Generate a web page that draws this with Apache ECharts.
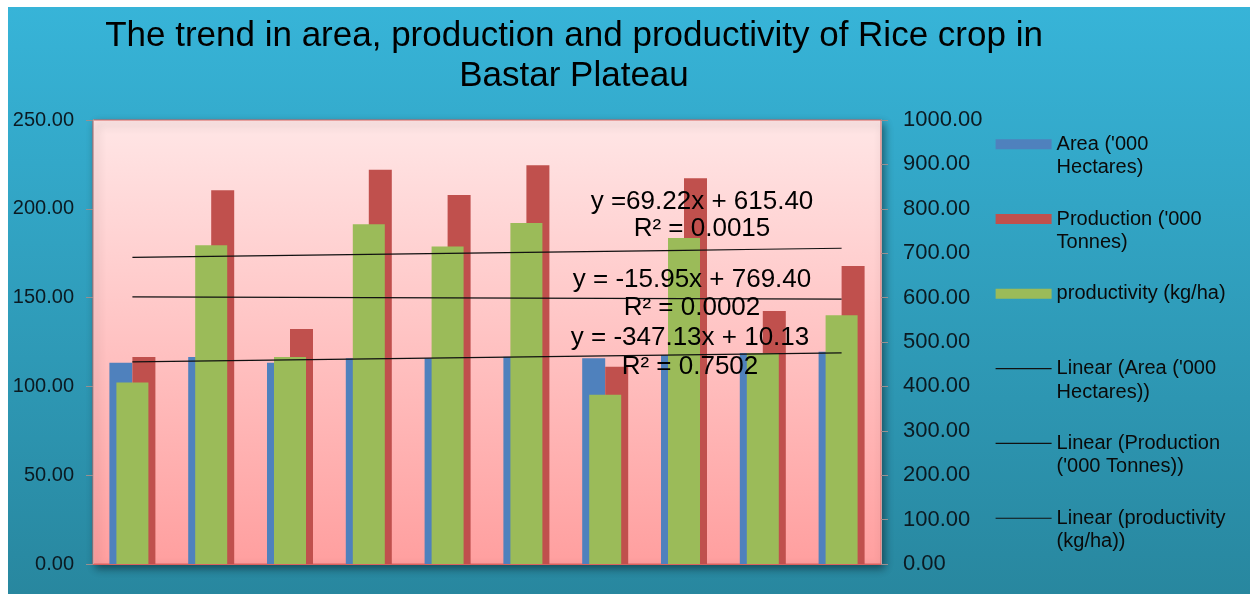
<!DOCTYPE html>
<html>
<head>
<meta charset="utf-8">
<title>Rice crop in Bastar Plateau</title>
<script src="https://cdn.jsdelivr.net/npm/echarts/dist/echarts.min.js"></script>
<style>
  html, body { margin: 0; padding: 0; background: #ffffff; }
  #chart { width: 1250px; height: 594px; }
</style>
</head>
<body>
<div id="chart"></div>
<script>
// Ten seasons of rice statistics for Bastar Plateau
const periods = ['1', '2', '3', '4', '5', '6', '7', '8', '9', '10'];
const areaValues = [113.3, 116.6, 113.3, 115.8, 115.8, 116.7, 115.8, 117.7, 118.8, 119.5];          // '000 ha
const productionValues = [116.6, 210.4, 132.3, 222.0, 207.8, 224.5, 111.1, 217.2, 142.5, 167.8];    // '000 t
const productivityValues = [409, 718, 466, 765, 715, 768, 381, 734, 475, 560];                      // kg/ha

const leftAxisTicks = [0, 50, 100, 150, 200, 250];
const rightAxisTicks = [0, 100, 200, 300, 400, 500, 600, 700, 800, 900, 1000];

const seriesNames = {
  area: "Area ('000 Hectares)",
  production: "Production ('000 Tonnes)",
  productivity: 'productivity (kg/ha)',
  areaTrend: "Linear (Area ('000 Hectares))",
  productionTrend: "Linear (Production ('000 Tonnes))",
  productivityTrend: 'Linear (productivity (kg/ha))'
};

// Wrapped legend captions; the leading blank line keeps each swatch level with the first text line
const legendCaptions = {
  [seriesNames.area]: "\nArea ('000\nHectares)",
  [seriesNames.production]: "\nProduction ('000\nTonnes)",
  [seriesNames.productivity]: '\nproductivity (kg/ha)\n',
  [seriesNames.areaTrend]: "\nLinear (Area ('000\nHectares))",
  [seriesNames.productionTrend]: "\nLinear (Production\n('000 Tonnes))",
  [seriesNames.productivityTrend]: '\nLinear (productivity\n(kg/ha))'
};

// Trendline equations as printed on the chart
const equationLabels = [
  'y =69.22x + 615.40', 'R² = 0.0015',
  'y = -15.95x + 769.40', 'R² = 0.0002',
  'y = -347.13x + 10.13', 'R² = 0.7502'
];

// Least-squares straight line through a series (x = 1..n)
function linearTrend(values) {
  const n = values.length;
  const xs = values.map((_, i) => i + 1);
  const mx = xs.reduce((a, b) => a + b, 0) / n;
  const my = values.reduce((a, b) => a + b, 0) / n;
  let sxy = 0, sxx = 0;
  for (let i = 0; i < n; i++) {
    sxy += (xs[i] - mx) * (values[i] - my);
    sxx += (xs[i] - mx) * (xs[i] - mx);
  }
  const slope = sxy / sxx;
  const intercept = my - slope * mx;
  return xs.map(x => +(intercept + slope * x).toFixed(3));
}

const FONT = '"Liberation Sans", Arial, sans-serif';
const LG = echarts.graphic.LinearGradient;

const chart = echarts.init(document.getElementById('chart'), null, { renderer: 'canvas' });

const trendLine = { color: '#111111', width: 1.2 };

const equationPositions = [
  [702, 202], [702, 229],
  [692, 280], [692, 308],
  [690, 338], [690, 367]
];

const lineLegendItem = name => ({
  name: name,
  lineStyle: { color: trendLine.color, width: 1.2 },
  itemStyle: { opacity: 0 }
});

chart.setOption({
  animation: false,
  textStyle: { fontFamily: FONT },
  title: {
    text: 'The trend in area, production and productivity of Rice crop in\nBastar Plateau',
    left: 574,
    top: 16,
    padding: 0,
    textAlign: 'center',
    textStyle: { fontFamily: FONT, fontSize: 35, fontWeight: 'normal', color: '#000000', lineHeight: 40 }
  },
  legend: {
    orient: 'vertical',
    left: 995,
    top: 109,
    itemWidth: 56,
    itemHeight: 10,
    itemGap: 4.3,
    padding: 0,
    selectedMode: false,
    textStyle: { fontFamily: FONT, fontSize: 20, color: '#0a0a0a', lineHeight: 23.5 },
    formatter: name => legendCaptions[name] || name,
    data: [
      { name: seriesNames.area, icon: 'rect' },
      { name: seriesNames.production, icon: 'rect' },
      { name: seriesNames.productivity, icon: 'rect' },
      lineLegendItem(seriesNames.areaTrend),
      lineLegendItem(seriesNames.productionTrend),
      lineLegendItem(seriesNames.productivityTrend)
    ]
  },
  grid: {
    left: 93,
    top: 120,
    width: 788,
    height: 444,
    show: true,
    backgroundColor: new LG(0, 0, 0, 1, [
      { offset: 0, color: '#ffe6e6' },
      { offset: 1, color: '#ff9f9f' }
    ]),
    borderColor: '#d9625f',
    borderWidth: 1,
    shadowColor: 'rgba(0, 0, 0, 0.45)',
    shadowBlur: 8,
    shadowOffsetX: 3,
    shadowOffsetY: 4
  },
  xAxis: [
    {
      type: 'category',
      data: periods,
      axisLine: { show: true, lineStyle: { color: '#d9625f' } },
      axisTick: { show: false },
      axisLabel: { show: false }
    },
    {
      type: 'category',
      data: periods,
      show: false
    }
  ],
  yAxis: [
    {
      type: 'value',
      min: leftAxisTicks[0],
      max: leftAxisTicks[leftAxisTicks.length - 1],
      interval: leftAxisTicks[1] - leftAxisTicks[0],
      position: 'left',
      splitLine: { show: false },
      axisLine: { show: true, lineStyle: { color: '#c9a2a2' } },
      axisTick: { show: true, inside: false, length: 7, lineStyle: { color: '#9a8f8f' } },
      axisLabel: { margin: 19, fontFamily: FONT, fontSize: 20, color: '#0b1a22', formatter: v => v.toFixed(2) }
    },
    {
      type: 'value',
      min: rightAxisTicks[0],
      max: rightAxisTicks[rightAxisTicks.length - 1],
      interval: rightAxisTicks[1] - rightAxisTicks[0],
      position: 'right',
      splitLine: { show: false },
      axisLine: { show: true, lineStyle: { color: '#c9a2a2' } },
      axisTick: { show: true, inside: false, length: 7, lineStyle: { color: '#9a8f8f' } },
      axisLabel: { margin: 22, fontFamily: FONT, fontSize: 22, color: '#0b1a22', formatter: v => v.toFixed(2) }
    }
  ],
  series: [
    {
      name: seriesNames.area,
      type: 'bar',
      xAxisIndex: 0,
      yAxisIndex: 0,
      barWidth: 23,
      barGap: '0%',
      itemStyle: { color: '#4f81bd' },
      data: areaValues
    },
    {
      name: seriesNames.production,
      type: 'bar',
      xAxisIndex: 0,
      yAxisIndex: 0,
      barWidth: 23,
      barGap: '0%',
      itemStyle: { color: '#c0504d' },
      data: productionValues
    },
    {
      name: seriesNames.productivity,
      type: 'bar',
      xAxisIndex: 1,
      yAxisIndex: 1,
      barWidth: 32,
      itemStyle: { color: '#9bbb59' },
      data: productivityValues
    },
    {
      name: seriesNames.areaTrend,
      type: 'line',
      xAxisIndex: 0,
      yAxisIndex: 0,
      symbol: 'none',
      z: 5,
      lineStyle: trendLine,
      itemStyle: { color: trendLine.color },
      data: linearTrend(areaValues)
    },
    {
      name: seriesNames.productionTrend,
      type: 'line',
      xAxisIndex: 0,
      yAxisIndex: 0,
      symbol: 'none',
      z: 5,
      lineStyle: trendLine,
      itemStyle: { color: trendLine.color },
      data: linearTrend(productionValues)
    },
    {
      name: seriesNames.productivityTrend,
      type: 'line',
      xAxisIndex: 0,
      yAxisIndex: 1,
      symbol: 'none',
      z: 5,
      lineStyle: trendLine,
      itemStyle: { color: trendLine.color },
      data: linearTrend(productivityValues)
    }
  ],
  graphic: [
    {
      type: 'rect',
      left: 8,
      top: 7,
      z: -100,
      silent: true,
      shape: { width: 1242, height: 587 },
      style: {
        fill: new LG(0, 0, 0, 1, [
          { offset: 0, color: '#37b4d8' },
          { offset: 1, color: '#28879f' }
        ])
      }
    }
  ].concat(equationLabels.map((text, i) => ({
    type: 'text',
    x: equationPositions[i][0],
    y: equationPositions[i][1],
    z: 100,
    silent: true,
    style: {
      text: text,
      fontFamily: FONT,
      fontSize: 26,
      fill: '#000000',
      align: 'center',
      verticalAlign: 'middle'
    }
  })))
});
</script>
</body>
</html>
